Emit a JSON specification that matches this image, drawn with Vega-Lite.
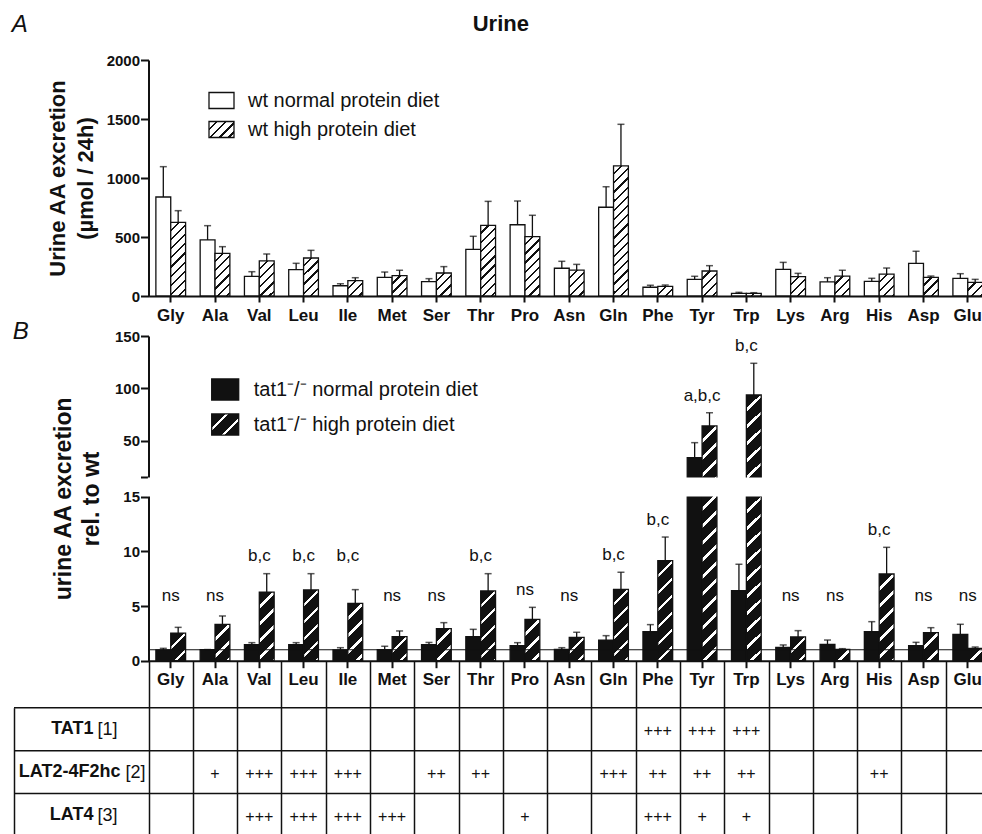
{
"$schema": "https://vega.github.io/schema/vega-lite/v6.json",
"width": 968,
"height": 774,
"autosize": {"type": "none"},
"padding": {"left": 14, "top": 60, "right": 0, "bottom": 0},
"background": "white",
"config": {
  "font": "Liberation Sans",
  "view": {"stroke": null},
  "axis": {"labelFont": "Liberation Sans", "titleFont": "Liberation Sans", "labelColor": "#111", "titleColor": "#111", "domainColor": "#111", "tickColor": "#111", "grid": false, "labelOverlap": false},
  "legend": {"labelFont": "Liberation Sans", "labelColor": "#111"},
  "text": {"font": "Liberation Sans", "color": "#111"}
},
"params": [
  {"name": "stopsA", "value": [
    {"offset":0,"color":"#fff"},{"offset":0.0375,"color":"#fff"},{"offset":0.0375,"color":"#111"},{"offset":0.05,"color":"#111"},
    {"offset":0.05,"color":"#fff"},{"offset":0.0875,"color":"#fff"},{"offset":0.0875,"color":"#111"},{"offset":0.1,"color":"#111"},
    {"offset":0.1,"color":"#fff"},{"offset":0.1375,"color":"#fff"},{"offset":0.1375,"color":"#111"},{"offset":0.15,"color":"#111"},
    {"offset":0.15,"color":"#fff"},{"offset":0.1875,"color":"#fff"},{"offset":0.1875,"color":"#111"},{"offset":0.2,"color":"#111"},
    {"offset":0.2,"color":"#fff"},{"offset":0.2375,"color":"#fff"},{"offset":0.2375,"color":"#111"},{"offset":0.25,"color":"#111"},
    {"offset":0.25,"color":"#fff"},{"offset":0.2875,"color":"#fff"},{"offset":0.2875,"color":"#111"},{"offset":0.3,"color":"#111"},
    {"offset":0.3,"color":"#fff"},{"offset":0.3375,"color":"#fff"},{"offset":0.3375,"color":"#111"},{"offset":0.35,"color":"#111"},
    {"offset":0.35,"color":"#fff"},{"offset":0.3875,"color":"#fff"},{"offset":0.3875,"color":"#111"},{"offset":0.4,"color":"#111"},
    {"offset":0.4,"color":"#fff"},{"offset":0.4375,"color":"#fff"},{"offset":0.4375,"color":"#111"},{"offset":0.45,"color":"#111"},
    {"offset":0.45,"color":"#fff"},{"offset":0.4875,"color":"#fff"},{"offset":0.4875,"color":"#111"},{"offset":0.5,"color":"#111"},
    {"offset":0.5,"color":"#fff"},{"offset":0.5375,"color":"#fff"},{"offset":0.5375,"color":"#111"},{"offset":0.55,"color":"#111"},
    {"offset":0.55,"color":"#fff"},{"offset":0.5875,"color":"#fff"},{"offset":0.5875,"color":"#111"},{"offset":0.6,"color":"#111"},
    {"offset":0.6,"color":"#fff"},{"offset":0.6375,"color":"#fff"},{"offset":0.6375,"color":"#111"},{"offset":0.65,"color":"#111"},
    {"offset":0.65,"color":"#fff"},{"offset":0.6875,"color":"#fff"},{"offset":0.6875,"color":"#111"},{"offset":0.7,"color":"#111"},
    {"offset":0.7,"color":"#fff"},{"offset":0.7375,"color":"#fff"},{"offset":0.7375,"color":"#111"},{"offset":0.75,"color":"#111"},
    {"offset":0.75,"color":"#fff"},{"offset":0.7875,"color":"#fff"},{"offset":0.7875,"color":"#111"},{"offset":0.8,"color":"#111"},
    {"offset":0.8,"color":"#fff"},{"offset":0.8375,"color":"#fff"},{"offset":0.8375,"color":"#111"},{"offset":0.85,"color":"#111"},
    {"offset":0.85,"color":"#fff"},{"offset":0.8875,"color":"#fff"},{"offset":0.8875,"color":"#111"},{"offset":0.9,"color":"#111"},
    {"offset":0.9,"color":"#fff"},{"offset":0.9375,"color":"#fff"},{"offset":0.9375,"color":"#111"},{"offset":0.95,"color":"#111"},
    {"offset":0.95,"color":"#fff"},{"offset":0.9875,"color":"#fff"},{"offset":0.9875,"color":"#111"},{"offset":1,"color":"#111"}
  ]},
  {"name": "stopsB", "value": [
    {"offset":0,"color":"#111"},{"offset":0.04,"color":"#111"},{"offset":0.04,"color":"#fff"},{"offset":0.05,"color":"#fff"},
    {"offset":0.05,"color":"#111"},{"offset":0.09,"color":"#111"},{"offset":0.09,"color":"#fff"},{"offset":0.1,"color":"#fff"},
    {"offset":0.1,"color":"#111"},{"offset":0.14,"color":"#111"},{"offset":0.14,"color":"#fff"},{"offset":0.15,"color":"#fff"},
    {"offset":0.15,"color":"#111"},{"offset":0.19,"color":"#111"},{"offset":0.19,"color":"#fff"},{"offset":0.2,"color":"#fff"},
    {"offset":0.2,"color":"#111"},{"offset":0.24,"color":"#111"},{"offset":0.24,"color":"#fff"},{"offset":0.25,"color":"#fff"},
    {"offset":0.25,"color":"#111"},{"offset":0.29,"color":"#111"},{"offset":0.29,"color":"#fff"},{"offset":0.3,"color":"#fff"},
    {"offset":0.3,"color":"#111"},{"offset":0.34,"color":"#111"},{"offset":0.34,"color":"#fff"},{"offset":0.35,"color":"#fff"},
    {"offset":0.35,"color":"#111"},{"offset":0.39,"color":"#111"},{"offset":0.39,"color":"#fff"},{"offset":0.4,"color":"#fff"},
    {"offset":0.4,"color":"#111"},{"offset":0.44,"color":"#111"},{"offset":0.44,"color":"#fff"},{"offset":0.45,"color":"#fff"},
    {"offset":0.45,"color":"#111"},{"offset":0.49,"color":"#111"},{"offset":0.49,"color":"#fff"},{"offset":0.5,"color":"#fff"},
    {"offset":0.5,"color":"#111"},{"offset":0.54,"color":"#111"},{"offset":0.54,"color":"#fff"},{"offset":0.55,"color":"#fff"},
    {"offset":0.55,"color":"#111"},{"offset":0.59,"color":"#111"},{"offset":0.59,"color":"#fff"},{"offset":0.6,"color":"#fff"},
    {"offset":0.6,"color":"#111"},{"offset":0.64,"color":"#111"},{"offset":0.64,"color":"#fff"},{"offset":0.65,"color":"#fff"},
    {"offset":0.65,"color":"#111"},{"offset":0.69,"color":"#111"},{"offset":0.69,"color":"#fff"},{"offset":0.7,"color":"#fff"},
    {"offset":0.7,"color":"#111"},{"offset":0.74,"color":"#111"},{"offset":0.74,"color":"#fff"},{"offset":0.75,"color":"#fff"},
    {"offset":0.75,"color":"#111"},{"offset":0.79,"color":"#111"},{"offset":0.79,"color":"#fff"},{"offset":0.8,"color":"#fff"},
    {"offset":0.8,"color":"#111"},{"offset":0.84,"color":"#111"},{"offset":0.84,"color":"#fff"},{"offset":0.85,"color":"#fff"},
    {"offset":0.85,"color":"#111"},{"offset":0.89,"color":"#111"},{"offset":0.89,"color":"#fff"},{"offset":0.9,"color":"#fff"},
    {"offset":0.9,"color":"#111"},{"offset":0.94,"color":"#111"},{"offset":0.94,"color":"#fff"},{"offset":0.95,"color":"#fff"},
    {"offset":0.95,"color":"#111"},{"offset":0.99,"color":"#111"},{"offset":0.99,"color":"#fff"},{"offset":1,"color":"#fff"}
  ]},
  {"name": "legA", "expr": "{'gradient':'linear','x1':0,'y1':0,'x2':5.221,'y2':3.342,'stops':stopsA}"},
  {"name": "legB", "expr": "{'gradient':'linear','x1':0,'y1':0,'x2':7.846,'y2':6.103,'stops':stopsB}"}
],
"datasets": {
  "a": [
    {"aa":"Gly","diet":"normal","m":839,"e":257},{"aa":"Gly","diet":"high","m":624,"e":99},
    {"aa":"Ala","diet":"normal","m":475,"e":121},{"aa":"Ala","diet":"high","m":362,"e":56},
    {"aa":"Val","diet":"normal","m":167,"e":39},{"aa":"Val","diet":"high","m":297,"e":59},
    {"aa":"Leu","diet":"normal","m":223,"e":54},{"aa":"Leu","diet":"high","m":322,"e":65},
    {"aa":"Ile","diet":"normal","m":87,"e":17},{"aa":"Ile","diet":"high","m":130,"e":25},
    {"aa":"Met","diet":"normal","m":158,"e":45},{"aa":"Met","diet":"high","m":172,"e":46},
    {"aa":"Ser","diet":"normal","m":121,"e":26},{"aa":"Ser","diet":"high","m":195,"e":54},
    {"aa":"Thr","diet":"normal","m":395,"e":111},{"aa":"Thr","diet":"high","m":599,"e":203},
    {"aa":"Pro","diet":"normal","m":604,"e":201},{"aa":"Pro","diet":"high","m":503,"e":181},
    {"aa":"Asn","diet":"normal","m":235,"e":59},{"aa":"Asn","diet":"high","m":220,"e":48},
    {"aa":"Gln","diet":"normal","m":752,"e":174},{"aa":"Gln","diet":"high","m":1102,"e":353},
    {"aa":"Phe","diet":"normal","m":74,"e":17},{"aa":"Phe","diet":"high","m":82,"e":11},
    {"aa":"Tyr","diet":"normal","m":141,"e":26},{"aa":"Tyr","diet":"high","m":212,"e":45},
    {"aa":"Trp","diet":"normal","m":23,"e":8},{"aa":"Trp","diet":"high","m":23,"e":5},
    {"aa":"Lys","diet":"normal","m":226,"e":59},{"aa":"Lys","diet":"high","m":164,"e":28},
    {"aa":"Arg","diet":"normal","m":119,"e":36},{"aa":"Arg","diet":"high","m":169,"e":49},
    {"aa":"His","diet":"normal","m":124,"e":26},{"aa":"His","diet":"high","m":186,"e":51},
    {"aa":"Asp","diet":"normal","m":277,"e":102},{"aa":"Asp","diet":"high","m":158,"e":11},
    {"aa":"Glu","diet":"normal","m":150,"e":39},{"aa":"Glu","diet":"high","m":116,"e":25}
  ],
  "b": [
    {"aa":"Gly","diet":"normal","m":0.98,"e":0.15},{"aa":"Gly","diet":"high","m":2.53,"e":0.52,"lab":"ns"},
    {"aa":"Ala","diet":"normal","m":1.0,"e":0.02},{"aa":"Ala","diet":"high","m":3.33,"e":0.76,"lab":"ns"},
    {"aa":"Val","diet":"normal","m":1.46,"e":0.19},{"aa":"Val","diet":"high","m":6.28,"e":1.68,"lab":"b,c"},
    {"aa":"Leu","diet":"normal","m":1.46,"e":0.19},{"aa":"Leu","diet":"high","m":6.47,"e":1.49,"lab":"b,c"},
    {"aa":"Ile","diet":"normal","m":0.98,"e":0.21},{"aa":"Ile","diet":"high","m":5.25,"e":1.25,"lab":"b,c"},
    {"aa":"Met","diet":"normal","m":1.0,"e":0.32},{"aa":"Met","diet":"high","m":2.2,"e":0.52,"lab":"ns"},
    {"aa":"Ser","diet":"normal","m":1.46,"e":0.21},{"aa":"Ser","diet":"high","m":2.93,"e":0.55,"lab":"ns"},
    {"aa":"Thr","diet":"normal","m":2.2,"e":0.67},{"aa":"Thr","diet":"high","m":6.38,"e":1.58,"lab":"b,c"},
    {"aa":"Pro","diet":"normal","m":1.37,"e":0.28},{"aa":"Pro","diet":"high","m":3.78,"e":1.1,"lab":"ns"},
    {"aa":"Asn","diet":"normal","m":1.04,"e":0.15},{"aa":"Asn","diet":"high","m":2.14,"e":0.46,"lab":"ns"},
    {"aa":"Gln","diet":"normal","m":1.89,"e":0.4},{"aa":"Gln","diet":"high","m":6.53,"e":1.56,"lab":"b,c"},
    {"aa":"Phe","diet":"normal","m":2.66,"e":0.64},{"aa":"Phe","diet":"high","m":9.15,"e":2.16,"lab":"b,c"},
    {"aa":"Tyr","diet":"normal","m":34.1,"e":14.3},{"aa":"Tyr","diet":"high","m":64.3,"e":12.6,"lab":"a,b,c"},
    {"aa":"Trp","diet":"normal","m":6.4,"e":2.42},{"aa":"Trp","diet":"high","m":93.8,"e":30.2,"lab":"b,c"},
    {"aa":"Lys","diet":"normal","m":1.22,"e":0.22},{"aa":"Lys","diet":"high","m":2.17,"e":0.58,"lab":"ns"},
    {"aa":"Arg","diet":"normal","m":1.5,"e":0.39},{"aa":"Arg","diet":"high","m":1.04,"e":0.06,"lab":"ns"},
    {"aa":"His","diet":"normal","m":2.66,"e":0.91},{"aa":"His","diet":"high","m":7.93,"e":2.44,"lab":"b,c"},
    {"aa":"Asp","diet":"normal","m":1.37,"e":0.31},{"aa":"Asp","diet":"high","m":2.56,"e":0.46,"lab":"ns"},
    {"aa":"Glu","diet":"normal","m":2.41,"e":0.92},{"aa":"Glu","diet":"high","m":1.13,"e":0.12,"lab":"ns"}
  ],
  "rows": [{"row":"TAT1"},{"row":"LAT2-4F2hc"},{"row":"LAT4"}],
  "t": [
    {"row":"TAT1","aa":"Phe","v":"+++"},{"row":"TAT1","aa":"Tyr","v":"+++"},{"row":"TAT1","aa":"Trp","v":"+++"},
    {"row":"LAT2-4F2hc","aa":"Ala","v":"+"},{"row":"LAT2-4F2hc","aa":"Val","v":"+++"},{"row":"LAT2-4F2hc","aa":"Leu","v":"+++"},
    {"row":"LAT2-4F2hc","aa":"Ile","v":"+++"},{"row":"LAT2-4F2hc","aa":"Ser","v":"++"},{"row":"LAT2-4F2hc","aa":"Thr","v":"++"},
    {"row":"LAT2-4F2hc","aa":"Gln","v":"+++"},{"row":"LAT2-4F2hc","aa":"Phe","v":"++"},{"row":"LAT2-4F2hc","aa":"Tyr","v":"++"},
    {"row":"LAT2-4F2hc","aa":"Trp","v":"++"},{"row":"LAT2-4F2hc","aa":"His","v":"++"},
    {"row":"LAT4","aa":"Val","v":"+++"},{"row":"LAT4","aa":"Leu","v":"+++"},{"row":"LAT4","aa":"Ile","v":"+++"},
    {"row":"LAT4","aa":"Met","v":"+++"},{"row":"LAT4","aa":"Pro","v":"+"},{"row":"LAT4","aa":"Phe","v":"+++"},
    {"row":"LAT4","aa":"Tyr","v":"+"},{"row":"LAT4","aa":"Trp","v":"+"}
  ]
},
"resolve": {
  "scale": {"x": "independent", "y": "independent", "xOffset": "independent", "fill": "independent"},
  "axis": {"x": "independent", "y": "independent"},
  "legend": {"fill": "independent"}
},
"layer": [
  {
    "data": {"name": "a"},
    "transform": [{"calculate": "datum.m + datum.e", "as": "top"}],
    "layer": [
      {
        "transform": [{"filter": "datum.diet == 'normal'"}],
        "mark": {"type": "bar", "stroke": "#111", "strokeWidth": 1.3},
        "encoding": {
          "x": {"field": "aa", "type": "nominal",
                "scale": {"domain": ["Gly","Ala","Val","Leu","Ile","Met","Ser","Thr","Pro","Asn","Gln","Phe","Tyr","Trp","Lys","Arg","His","Asp","Glu"], "range": [134.6, 975.9], "paddingInner": 0, "paddingOuter": 0},
                "axis": {"orient": "bottom", "offset": -538, "title": null, "labelAngle": 0, "labelFontSize": 17, "labelFontWeight": "bold", "labelPadding": 5, "tickSize": 6, "tickWidth": 2, "domainWidth": 2}},
          "xOffset": {"field": "diet", "type": "nominal", "scale": {"domain": ["normal","high"], "paddingInner": 0, "paddingOuter": 0.49}},
          "y": {"field": "m", "type": "quantitative",
                "scale": {"domain": [0, 2000], "range": [236, 0], "nice": false},
                "axis": {"orient": "left", "offset": -134.5, "values": [0,500,1000,1500,2000], "format": "d", "title": ["Urine AA excretion", "(µmol / 24h)"], "titleFontSize": 22, "titleFontWeight": "bold", "titleLineHeight": 27.5, "titlePadding": 9, "labelFontSize": 15, "labelFontWeight": "bold", "labelPadding": 1, "tickSize": 8, "tickWidth": 2, "domainWidth": 2}},
          "fill": {"field": "diet", "type": "nominal",
                   "scale": {"domain": ["normal","high"], "range": ["#ffffff", {"expr": "legA"}]},
                   "legend": {"orient": "none", "legendX": 194, "legendY": 27, "direction": "vertical", "title": null, "symbolType": "M-1,-0.64H1V0.64H-1Z", "symbolSize": 625, "symbolStrokeColor": "#111", "symbolStrokeWidth": 1.3, "labelFontSize": 20, "labelOffset": 13, "rowPadding": 4, "padding": 0, "labelLimit": 400,
                              "labelExpr": "datum.value == 'normal' ? 'wt normal protein diet' : 'wt high protein diet'"}}
        }
      },
      {
        "transform": [{"filter": "datum.diet == 'high'"}],
        "mark": {"type": "bar", "stroke": "#111", "strokeWidth": 1.3,
                 "fill": {"expr": "{'gradient':'linear','x1':0,'y1':0,'x2':14.8*184/(219+pow(datum.m*0.118,2)),'y2':datum.m*0.118*184/(219+pow(datum.m*0.118,2)),'stops':stopsA}"}},
        "encoding": {
          "x": {"field": "aa", "type": "nominal"},
          "xOffset": {"field": "diet", "type": "nominal"},
          "y": {"field": "m", "type": "quantitative"}
        }
      },
      {
        "mark": {"type": "rule", "stroke": "#111", "strokeWidth": 1.3},
        "encoding": {
          "x": {"field": "aa", "type": "nominal"},
          "xOffset": {"field": "diet", "type": "nominal"},
          "y": {"field": "m", "type": "quantitative"},
          "y2": {"field": "top"}
        }
      },
      {
        "mark": {"type": "tick", "color": "#111", "thickness": 1.5, "size": 7},
        "encoding": {
          "x": {"field": "aa", "type": "nominal"},
          "xOffset": {"field": "diet", "type": "nominal"},
          "y": {"field": "top", "type": "quantitative"}
        }
      },
      {
        "data": {"values": [{}]},
        "mark": {"type": "text", "text": "A", "fontSize": 24, "fontStyle": "italic", "align": "left", "baseline": "alphabetic", "dx": -136.9, "dy": -28.3},
        "encoding": {"x": {"datum": "Gly", "bandPosition": 0}, "y": {"datum": 2000}}
      },
      {
        "data": {"values": [{}]},
        "mark": {"type": "text", "text": "Urine", "fontSize": 22, "fontWeight": "bold", "align": "center", "baseline": "alphabetic", "dx": -2, "dy": -29.3},
        "encoding": {"x": {"datum": "Pro", "bandPosition": 0}, "y": {"datum": 2000}}
      }
    ]
  },
  {
    "data": {"name": "b"},
    "transform": [{"calculate": "datum.m + datum.e", "as": "top"}],
    "layer": [
      {
        "transform": [{"filter": "datum.diet == 'normal'"}],
        "mark": {"type": "bar", "stroke": "#111", "strokeWidth": 1.3},
        "encoding": {
          "x": {"field": "aa", "type": "nominal",
                "scale": {"domain": ["Gly","Ala","Val","Leu","Ile","Met","Ser","Thr","Pro","Asn","Gln","Phe","Tyr","Trp","Lys","Arg","His","Asp","Glu"], "range": [134.6, 975.9], "paddingInner": 0, "paddingOuter": 0},
                "axis": {"orient": "bottom", "offset": -173.3, "title": null, "labelAngle": 0, "labelFontSize": 17, "labelFontWeight": "bold", "labelPadding": 4, "tickSize": 7, "tickWidth": 2, "domainWidth": 2}},
          "xOffset": {"field": "diet", "type": "nominal", "scale": {"domain": ["normal","high"], "paddingInner": 0, "paddingOuter": 0.49}},
          "y": {"field": "m", "type": "quantitative",
                "scale": {"domain": [0, 15, 15.4, 150], "range": [600.7, 436.7, 417.3, 276], "nice": false, "zero": false},
                "axis": {"orient": "left", "offset": -134.5, "values": [0,5,10,15,15.4,50,100,150], "labelExpr": "datum.value == 15.4 ? '' : datum.label", "title": ["urine AA excretion", "rel. to wt"], "titleFontSize": 23, "titleFontWeight": "bold", "titleLineHeight": 27.5, "titlePadding": 11, "labelFontSize": 15, "labelFontWeight": "bold", "labelPadding": 1, "tickSize": 8, "tickWidth": 2, "domainWidth": 2}},
          "fill": {"field": "diet", "type": "nominal",
                   "scale": {"domain": ["normal","high"], "range": ["#111111", {"expr": "legB"}]},
                   "legend": {"orient": "none", "legendX": 196.7, "legendY": 315, "direction": "vertical", "title": null, "symbolType": "M-1,-0.78H1V0.78H-1Z", "symbolSize": 729, "symbolStrokeColor": "#111", "symbolStrokeWidth": 1.3, "labelFontSize": 20, "labelOffset": 14, "rowPadding": 7, "padding": 0, "labelLimit": 400,
                              "labelExpr": "datum.value == 'normal' ? 'tat1⁻/⁻ normal protein diet' : 'tat1⁻/⁻ high protein diet'"}}
        }
      },
      {
        "transform": [{"filter": "datum.diet == 'high'"}],
        "mark": {"type": "bar", "stroke": "#111", "strokeWidth": 1.3,
                 "fill": {"expr": "{'gradient':'linear','x1':0,'y1':0,'x2':14.8*340/(219+pow((datum.m<=15?datum.m*10.933:183.4+(datum.m-15.4)*1.0498),2)),'y2':(datum.m<=15?datum.m*10.933:183.4+(datum.m-15.4)*1.0498)*340/(219+pow((datum.m<=15?datum.m*10.933:183.4+(datum.m-15.4)*1.0498),2)),'stops':stopsB}"}},
        "encoding": {
          "x": {"field": "aa", "type": "nominal"},
          "xOffset": {"field": "diet", "type": "nominal"},
          "y": {"field": "m", "type": "quantitative"}
        }
      },
      {
        "transform": [{"filter": "datum.diet == 'normal'"}],
        "mark": {"type": "rect", "fill": "white", "stroke": "white", "strokeWidth": 1.5},
        "encoding": {
          "x": {"field": "aa", "type": "nominal"},
          "y": {"datum": 15.02},
          "y2": {"datum": 15.38}
        }
      },
      {
        "data": {"values": [{}]},
        "mark": {"type": "rule", "stroke": "#111", "strokeWidth": 1.2},
        "encoding": {
          "x": {"datum": "Gly", "bandPosition": 0},
          "x2": {"datum": "Glu", "bandPosition": 1},
          "y": {"datum": 1}
        }
      },
      {
        "mark": {"type": "rule", "stroke": "#111", "strokeWidth": 1.3},
        "encoding": {
          "x": {"field": "aa", "type": "nominal"},
          "xOffset": {"field": "diet", "type": "nominal"},
          "y": {"field": "m", "type": "quantitative"},
          "y2": {"field": "top"}
        }
      },
      {
        "mark": {"type": "tick", "color": "#111", "thickness": 1.5, "size": 7},
        "encoding": {
          "x": {"field": "aa", "type": "nominal"},
          "xOffset": {"field": "diet", "type": "nominal"},
          "y": {"field": "top", "type": "quantitative"}
        }
      },
      {
        "transform": [{"filter": "datum.diet == 'high'"}, {"calculate": "max(datum.top, datum.lab == 'ns' ? 4.32 : 8.02)", "as": "ly"}],
        "mark": {"type": "text", "fontSize": 17, "dy": -12, "baseline": "alphabetic"},
        "encoding": {
          "x": {"field": "aa", "type": "nominal"},
          "y": {"field": "ly", "type": "quantitative"},
          "text": {"field": "lab"}
        }
      },
      {
        "data": {"values": [{}]},
        "mark": {"type": "text", "text": "B", "fontSize": 24, "fontStyle": "italic", "align": "left", "baseline": "alphabetic", "dx": -135.9, "dy": 3.3},
        "encoding": {"x": {"datum": "Gly", "bandPosition": 0}, "y": {"datum": 150}}
      }
    ]
  },
  {
    "data": {"name": "rows"},
    "mark": {"type": "rule", "stroke": "#111", "strokeWidth": 1.5},
    "encoding": {
      "y": {"field": "row", "type": "nominal", "bandPosition": 0,
            "scale": {"domain": ["TAT1","LAT2-4F2hc","LAT4"], "range": [647.7, 776.5], "paddingInner": 0, "paddingOuter": 0},
            "axis": {"orient": "left", "offset": 0, "title": null, "ticks": false, "tickSize": 0, "domain": true, "domainWidth": 1.5, "labelAlign": "right", "labelBaseline": "middle",
                     "labelPadding": {"condition": {"test": "datum.value === 'LAT2-4F2hc'", "value": -106}, "value": -79},
                     "labelFontSize": 18, "labelFontWeight": "bold", "labelLimit": 300}}
    }
  },
  {
    "data": {"name": "t"},
    "mark": {"type": "text", "fontSize": 16, "dy": 2},
    "encoding": {
      "x": {"field": "aa", "type": "nominal",
            "scale": {"domain": ["Gly","Ala","Val","Leu","Ile","Met","Ser","Thr","Pro","Asn","Gln","Phe","Tyr","Trp","Lys","Arg","His","Asp","Glu"], "range": [134.6, 975.9], "paddingInner": 0, "paddingOuter": 0},
            "axis": {"orient": "bottom", "offset": -173.3, "title": null, "labels": false, "domain": false, "tickBand": "extent", "tickSize": 174, "tickWidth": 1.5}},
      "y": {"field": "row", "type": "nominal",
            "scale": {"domain": ["TAT1","LAT2-4F2hc","LAT4"], "range": [647.7, 776.5], "paddingInner": 0, "paddingOuter": 0},
            "axis": {"orient": "left", "offset": 0, "title": null, "ticks": false, "tickSize": 0, "domain": false, "labelAlign": "left", "labelBaseline": "middle",
                     "labelPadding": {"condition": {"test": "datum.value === 'LAT2-4F2hc'", "value": -111}, "value": -83},
                     "labelExpr": "datum.value === 'TAT1' ? '[1]' : datum.value === 'LAT4' ? '[3]' : '[2]'",
                     "labelFontSize": 18, "labelFontWeight": "normal"}},
      "text": {"field": "v"}
    }
  }
]
}
